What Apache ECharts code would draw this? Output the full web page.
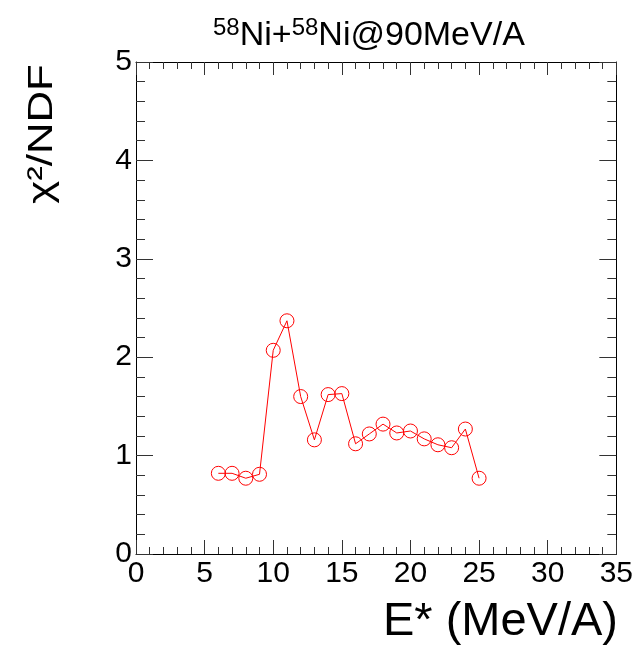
<!DOCTYPE html>
<html>
<head>
<meta charset="utf-8">
<script src="https://cdn.jsdelivr.net/npm/echarts@6/dist/echarts.min.js"></script>
<style>
  html, body { margin: 0; padding: 0; background: #fff; }
  #chart { width: 636px; height: 645px; }
</style>
</head>
<body>
<div id="chart"></div>
<script>
// E* (MeV/A) and chi2/NDF
const energy = [6, 7, 8, 9, 10, 11, 12, 13, 14, 15, 16, 17, 18, 19, 20, 21, 22, 23, 24, 25];
const chi2ndf = [0.82, 0.82, 0.77, 0.81, 2.07, 2.37, 1.60, 1.16, 1.62, 1.63, 1.12, 1.22, 1.32, 1.23, 1.25, 1.17, 1.11, 1.08, 1.27, 0.77];

const FONT = '"Liberation Sans", Arial, sans-serif';

const chart = echarts.init(document.getElementById('chart'));

const tickCommon = { inside: true, lineStyle: { color: '#333', width: 1 } };
const lineCommon = { show: true, onZero: false, lineStyle: { color: '#000', width: 1 } };

chart.setOption({
    animation: false,
    title: {
        text: '{sup|58}Ni+{sup|58}Ni@90MeV/A',
        left: 208,
        top: 11,
        textStyle: {
            fontFamily: FONT,
            fontSize: 34,
            fontWeight: 'normal',
            color: '#000',
            rich: {
                sup: { fontFamily: FONT, fontSize: 24, verticalAlign: 'top', padding: [0, 0, 16, 0], color: '#000' }
            }
        }
    },
    grid: { left: 136, right: 9, top: 62, bottom: 91, containLabel: false },
    xAxis: [
        {
            type: 'value', min: 0, max: 35, interval: 5,
            axisLine: lineCommon,
            axisTick: Object.assign({ length: 14 }, tickCommon),
            minorTick: { show: true, splitNumber: 5, length: 7, lineStyle: { color: '#333' } },
            splitLine: { show: false },
            axisLabel: { fontFamily: FONT, fontSize: 30, color: '#000', margin: 5 }
        },
        {
            type: 'value', min: 0, max: 35, interval: 5, position: 'top',
            axisLine: lineCommon,
            axisTick: Object.assign({ length: 13 }, tickCommon),
            minorTick: { show: true, splitNumber: 5, length: 7, lineStyle: { color: '#333' } },
            splitLine: { show: false },
            axisLabel: { show: false }
        }
    ],
    yAxis: [
        {
            type: 'value', min: 0, max: 5, interval: 1,
            axisLine: lineCommon,
            axisTick: Object.assign({ length: 17 }, tickCommon),
            minorTick: { show: true, splitNumber: 5, length: 9, lineStyle: { color: '#333' } },
            splitLine: { show: false },
            axisLabel: { fontFamily: FONT, fontSize: 30, color: '#000', margin: 4 }
        },
        {
            type: 'value', min: 0, max: 5, interval: 1, position: 'right',
            axisLine: lineCommon,
            axisTick: Object.assign({ length: 17 }, tickCommon),
            minorTick: { show: true, splitNumber: 5, length: 9, lineStyle: { color: '#333' } },
            splitLine: { show: false },
            axisLabel: { show: false }
        }
    ],
    graphic: [
        {
            type: 'text', right: 18, top: 599,
            style: { text: 'E* (MeV/A)', fontFamily: FONT, fontSize: 47, fill: '#000' }
        },
        {
            type: 'text', x: 42, y: 134, rotation: Math.PI / 2, scaleX: 1.25,
            style: { text: 'χ²/NDF', fontFamily: FONT, fontSize: 35, fill: '#000', align: 'center', verticalAlign: 'middle' }
        }
    ],
    series: [
        {
            type: 'line',
            data: energy.map((e, i) => [e, chi2ndf[i]]),
            symbol: 'circle',
            symbolSize: 14,
            showAllSymbol: true,
            lineStyle: { color: '#ff0000', width: 1 },
            itemStyle: { color: 'rgba(0,0,0,0)', borderColor: '#ff0000', borderWidth: 1 }
        }
    ]
});
</script>
</body>
</html>
